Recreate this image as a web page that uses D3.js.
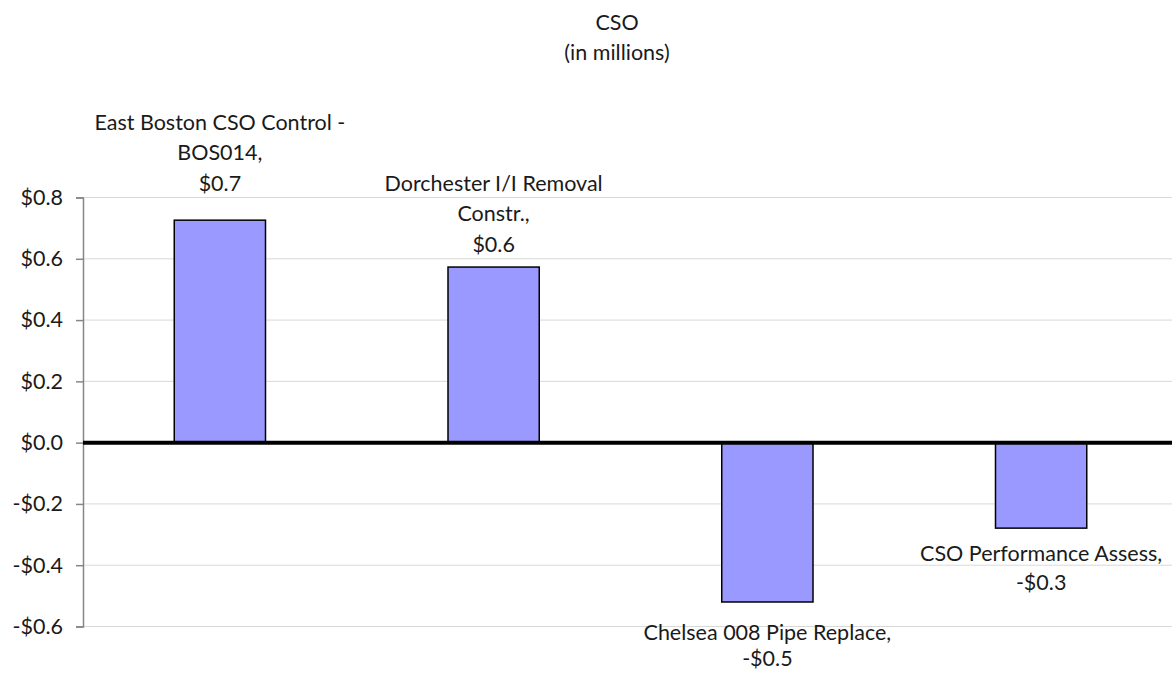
<!DOCTYPE html>
<html>
<head>
<meta charset="utf-8">
<script src="https://cdn.jsdelivr.net/npm/d3@7"></script>
<style>
  html, body { margin: 0; padding: 0; background: #fff; }
  svg { display: block; }
  text { font-family: Lato, "Noto Sans", sans-serif; fill: #1a1a1a; }
</style>
</head>
<body>
<svg id="chart" width="1172" height="674"></svg>
<script>
// ---- data ----
const categories = [
  ["East Boston CSO Control -", "BOS014,"],
  ["Dorchester I/I Removal", "Constr.,"],
  ["Chelsea 008 Pipe Replace,"],
  ["CSO Performance Assess,"]
];
const values = [0.726, 0.573, -0.52, -0.279];
const valueLabels = ["$0.7", "$0.6", "-$0.5", "-$0.3"];
const yTicks = [-0.6, -0.4, -0.2, 0.0, 0.2, 0.4, 0.6, 0.8];
const titleLines = ["CSO", "(in millions)"];

// ---- layout ----
const W = 1172, H = 674;
const plot = { left: 83, right: 1178, top: 197.5, bottom: 626.5 };
const labelGap = [37, 23, 30, 25];   // distance of nearest label line from bar end
const lineGap = [30.5, 30.5, 26, 29]; // spacing between label lines
const FS = 21.5;

const svg = d3.select("#chart");

const x = d3.scaleBand()
  .domain(d3.range(values.length))
  .range([plot.left, plot.right])
  .paddingInner(2 / 3)
  .paddingOuter(1 / 3);

const y = d3.scaleLinear()
  .domain([-0.6, 0.8])
  .range([plot.bottom, plot.top]);

const fmt = v => (v < 0 ? "-$" : "$") + Math.abs(v).toFixed(1);

// gridlines
svg.append("g")
  .selectAll("line")
  .data(yTicks.filter(t => t !== 0))
  .join("line")
  .attr("x1", plot.left).attr("x2", W)
  .attr("y1", d => y(d)).attr("y2", d => y(d))
  .attr("stroke", "#d9d9d9").attr("stroke-width", 1);

// y axis
const yAxis = svg.append("g")
  .attr("transform", `translate(${plot.left},0)`)
  .call(d3.axisLeft(y).tickValues(yTicks).tickFormat(fmt).tickSize(7).tickPadding(13));
yAxis.select(".domain").attr("stroke", "#868686").attr("stroke-width", 1.5);
yAxis.selectAll(".tick line").attr("stroke", "#868686").attr("stroke-width", 1.5);
yAxis.selectAll(".tick text")
  .attr("font-size", FS)
  .style("font-family", "Lato, 'Noto Sans', sans-serif")
  .attr("fill", "#1a1a1a");

// bars
svg.append("g")
  .selectAll("rect")
  .data(values)
  .join("rect")
  .attr("x", (d, i) => x(i))
  .attr("width", x.bandwidth())
  .attr("y", d => y(Math.max(0, d)))
  .attr("height", d => Math.abs(y(d) - y(0)))
  .attr("fill", "#9999ff")
  .attr("stroke", "#000")
  .attr("stroke-width", 1.5);

// zero line
svg.append("line")
  .attr("x1", plot.left).attr("x2", W)
  .attr("y1", y(0)).attr("y2", y(0))
  .attr("stroke", "#000").attr("stroke-width", 4);

// data labels
values.forEach((v, i) => {
  const lines = categories[i].concat([valueLabels[i]]);
  const cx = x(i) + x.bandwidth() / 2;
  const n = lines.length;
  const lh = lineGap[i];
  let firstCenter;
  if (v >= 0) {
    const lastCenter = y(v) - labelGap[i];
    firstCenter = lastCenter - (n - 1) * lh;
  } else {
    firstCenter = y(v) + labelGap[i];
  }
  const t = svg.append("text")
    .attr("text-anchor", "middle")
    .attr("font-size", FS);
  lines.forEach((ln, k) => {
    t.append("tspan")
      .attr("x", cx)
      .attr("y", firstCenter + k * lh)
      .attr("dy", "0.35em")
      .text(ln);
  });
});

// title
const title = svg.append("text")
  .attr("text-anchor", "middle")
  .attr("font-size", FS);
titleLines.forEach((ln, k) => {
  title.append("tspan")
    .attr("x", 617)
    .attr("y", 22 + k * 30)
    .attr("dy", "0.35em")
    .text(ln);
});
</script>
</body>
</html>
